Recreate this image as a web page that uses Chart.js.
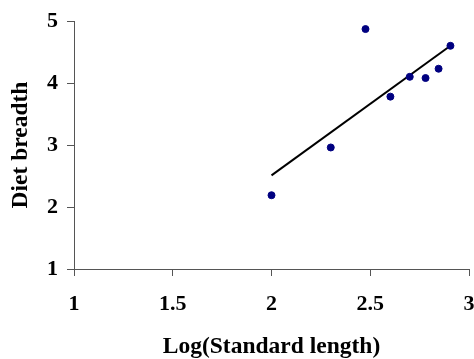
<!DOCTYPE html>
<html>
<head>
<meta charset="utf-8">
<script src="https://cdn.jsdelivr.net/npm/chart.js@4/dist/chart.umd.min.js"></script>
<style>
  html, body { margin: 0; padding: 0; background: #fff; }
  #wrap { width: 474px; height: 359px; }
</style>
</head>
<body>
<div id="wrap"><canvas id="chart"></canvas></div>
<script>
// Diet breadth vs Log(Standard length)
const logLength = [2.0, 2.30, 2.476, 2.602, 2.70, 2.78, 2.846, 2.906];
const dietBreadth = [2.19, 2.96, 4.87, 3.78, 4.10, 4.08, 4.23, 4.60];

// trend line end points
const trendX = [2.0, 2.906];
const trendY = [2.51, 4.60];

const xTicks = [1, 1.5, 2, 2.5, 3];
const yTicks = [1, 2, 3, 4, 5];

const axisColor = "#555";
const serif = "'Liberation Serif', 'Times New Roman', serif";
const tickFont = { family: serif, size: 22, weight: "bold" };
const titleFont = { family: serif, size: 23.5, weight: "bold" };

const ctx = document.getElementById("chart").getContext("2d");
new Chart(ctx, {
  type: "scatter",
  data: {
    datasets: [
      {
        label: "Species",
        data: logLength.map((x, i) => ({ x: x, y: dietBreadth[i] })),
        backgroundColor: "#000080",
        borderColor: "#000080",
        pointRadius: 3.5,
      },
      {
        label: "Trend",
        data: trendX.map((x, i) => ({ x: x, y: trendY[i] })),
        showLine: true,
        borderColor: "#000",
        borderWidth: 2,
        pointRadius: 0,
      },
    ],
  },
  options: {
    responsive: true,
    maintainAspectRatio: false,
    animation: false,
    layout: { padding: { top: 21, right: 3, left: 0, bottom: 0 } },
    plugins: {
      legend: { display: false },
      tooltip: { enabled: false },
    },
    scales: {
      x: {
        type: "linear",
        min: 1,
        max: 3,
        afterBuildTicks: (s) => { s.ticks = xTicks.map((v) => ({ value: v })); },
        afterFit: (s) => { s.height = 90; s.paddingLeft = 0; s.paddingRight = 0; },
        grid: { display: true, drawOnChartArea: false, drawTicks: true, tickLength: 7, color: axisColor },
        border: { display: true, color: axisColor },
        ticks: { color: "#000", font: tickFont, padding: 15, maxRotation: 0, callback: (v) => String(v) },
        title: { display: true, text: "Log(Standard length)", color: "#000", font: titleFont, padding: { top: 0, bottom: -2 } },
      },
      y: {
        type: "linear",
        min: 1,
        max: 5,
        afterBuildTicks: (s) => { s.ticks = yTicks.map((v) => ({ value: v })); },
        afterFit: (s) => { s.width = 74; s.paddingTop = 0; s.paddingBottom = 0; },
        grid: { display: true, drawOnChartArea: false, drawTicks: true, tickLength: 7, color: axisColor },
        border: { display: true, color: axisColor },
        ticks: { color: "#000", font: tickFont, padding: 9, callback: (v) => String(v) },
        title: { display: true, text: "Diet breadth", color: "#000", font: titleFont, padding: { top: 7, bottom: 0 } },
      },
    },
  },
});
</script>
</body>
</html>
